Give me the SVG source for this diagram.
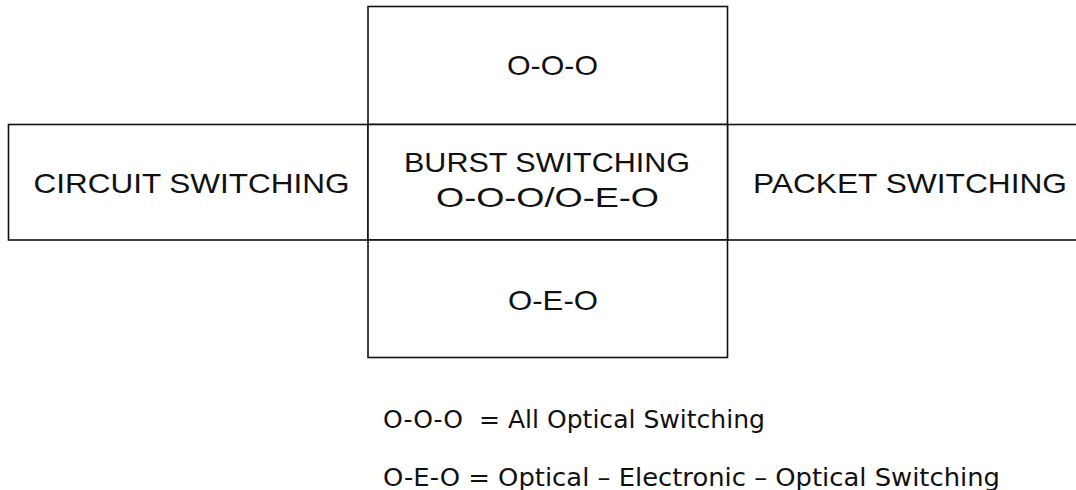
<svg xmlns="http://www.w3.org/2000/svg" width="1076" height="490" viewBox="0 0 1076 490">
<style>
.box{fill:#fff;stroke:#111;stroke-width:1.6}
.lbl{font-family:"Liberation Sans",Arial,sans-serif;font-size:28px;fill:#111;text-anchor:middle}
.leg{font-family:"DejaVu Sans",Verdana,sans-serif;font-size:25px;fill:#111;white-space:pre}
</style>
<rect width="1076" height="490" fill="#fff"/>
<g id="circuit">
<rect class="box" x="8.5" y="124.5" width="359.5" height="115.5"/>
<text class="lbl" x="191.5" y="193" textLength="316" lengthAdjust="spacingAndGlyphs">CIRCUIT SWITCHING</text>
</g>
<g id="packet">
<rect class="box" x="727.5" y="124.5" width="360" height="115.5"/>
<text class="lbl" x="910" y="193" textLength="314" lengthAdjust="spacingAndGlyphs">PACKET SWITCHING</text>
</g>
<g id="ooo">
<rect class="box" x="368" y="6.5" width="359.5" height="118"/>
<text class="lbl" x="552.5" y="75" textLength="91" lengthAdjust="spacingAndGlyphs">O-O-O</text>
</g>
<g id="burst">
<rect class="box" x="368" y="124.5" width="359.5" height="115.5"/>
<text class="lbl" x="547" y="172" textLength="286" lengthAdjust="spacingAndGlyphs">BURST SWITCHING</text>
<text class="lbl" x="547.5" y="207" textLength="223" lengthAdjust="spacingAndGlyphs">O-O-O/O-E-O</text>
</g>
<g id="oeo">
<rect class="box" x="368" y="240" width="359.5" height="117.5"/>
<text class="lbl" x="553" y="310" textLength="90" lengthAdjust="spacingAndGlyphs">O-E-O</text>
</g>
<g id="connectors"></g>
<g id="legend">
<text class="leg" x="383" y="428" textLength="382" lengthAdjust="spacingAndGlyphs" xml:space="preserve">O-O-O  = All Optical Switching</text>
<text class="leg" x="383" y="486" textLength="617" lengthAdjust="spacingAndGlyphs">O-E-O = Optical – Electronic – Optical Switching</text>
</g>
</svg>
